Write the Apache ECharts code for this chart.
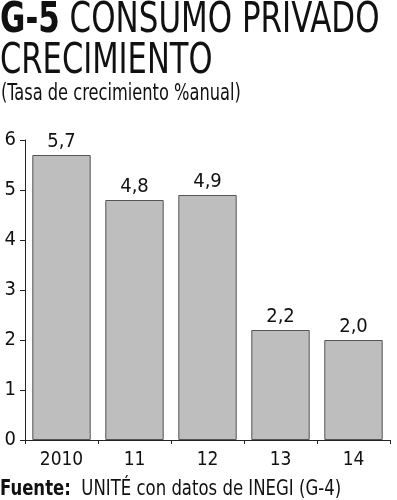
<!DOCTYPE html>
<html>
<head>
<meta charset="utf-8">
<script src="https://cdn.jsdelivr.net/npm/echarts@6/dist/echarts.min.js"></script>
<style>
  html, body { margin: 0; padding: 0; background: #fff; }
  #chart { width: 397px; height: 500px; }
</style>
</head>
<body>
<div id="chart"></div>
<script>
// datos del gráfico
const categories = ['2010', '11', '12', '13', '14']
const values = [5.7, 4.8, 4.9, 2.2, 2.0]
const yTicks = [0, 1, 2, 3, 4, 5, 6]

const FONT = '"DejaVu Sans Condensed", "Liberation Sans Narrow", sans-serif'

const chart = echarts.init(document.getElementById('chart'))

// textos angostos (tipografía condensada) con escala horizontal
const narrowText = (text, x, y, size, scale, rich) => ({
  type: 'text',
  x: x,
  y: y,
  scaleX: scale,
  originX: 0,
  style: {
    text: text,
    font: `normal ${size}px ${FONT}`,
    fill: '#111',
    verticalAlign: 'top',
    rich: rich
  }
})

const option = {
  backgroundColor: '#fff',
  animation: false,
  graphic: [
    narrowText('{b|G-5} CONSUMO PRIVADO', 0, -1, 43, 0.8, {
      b: { font: `bold 43px ${FONT}`, fill: '#111' }
    }),
    narrowText('CRECIMIENTO', 0, 40, 43, 0.79),
    narrowText('(Tasa de crecimiento %anual)', 1, 83, 23, 0.785),
    narrowText('{b|Fuente:}  UNITÉ con datos de INEGI (G-4)', 0, 478, 22, 0.835, {
      b: { font: `bold 22px ${FONT}`, fill: '#111' }
    })
  ],
  grid: {
    left: 25,
    right: 7,
    top: 140,
    bottom: 60
  },
  xAxis: {
    type: 'category',
    data: categories,
    axisLine: { show: true, lineStyle: { color: '#222', width: 1 } },
    axisTick: { show: true, length: 4, lineStyle: { color: '#222' } },
    axisLabel: { fontFamily: FONT, fontSize: 19, color: '#111', margin: 11 }
  },
  yAxis: {
    type: 'value',
    min: yTicks[0],
    max: yTicks[yTicks.length - 1],
    interval: 1,
    axisLine: { show: true, lineStyle: { color: '#222', width: 1 } },
    axisTick: { show: true, length: 5, lineStyle: { color: '#222' } },
    splitLine: { show: false },
    axisLabel: { fontFamily: FONT, fontSize: 20, color: '#111', margin: 9 }
  },
  series: [
    {
      type: 'bar',
      data: values,
      barCategoryGap: '20%',
      itemStyle: { color: '#bebebe', borderColor: '#555', borderWidth: 1 },
      label: {
        show: true,
        position: 'top',
        distance: 3,
        fontFamily: FONT,
        fontSize: 20,
        color: '#111',
        formatter: p => p.value.toFixed(1).replace('.', ',')
      }
    }
  ]
}

chart.setOption(option)
</script>
</body>
</html>
